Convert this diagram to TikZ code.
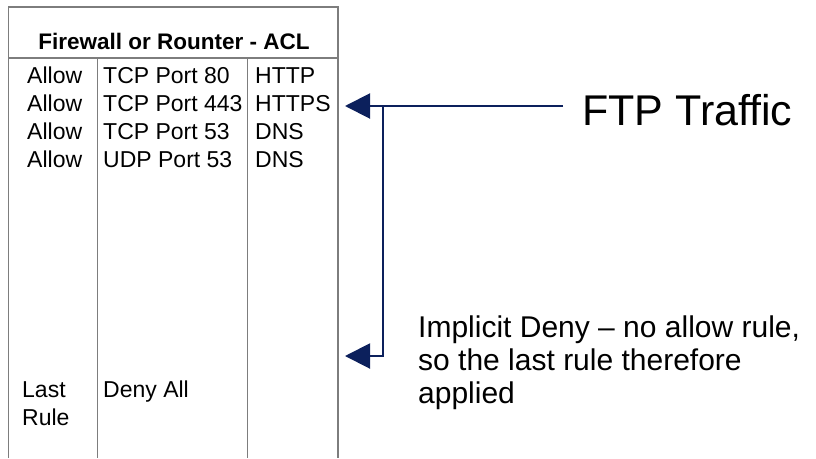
\documentclass[tikz,border=0pt]{standalone}
\usepackage{fontspec}
\setmainfont{Liberation Sans}
\usetikzlibrary{arrows.meta,positioning}
\definecolor{navy}{RGB}{12,32,92}
\definecolor{rule}{RGB}{125,125,125}
\tikzstyle{cell}=[anchor=base west,inner sep=0pt,font=\fontsize{23}{28}\selectfont]
\tikzstyle{head}=[anchor=base,inner sep=0pt,font=\fontsize{22.5}{26}\selectfont\bfseries]
\tikzstyle{grid}=[draw=rule,line width=1.3pt]
\tikzstyle{flow}=[-{Triangle[length=25pt,width=25pt]},draw=navy,color=navy,line width=2pt]

\begin{document}
\begin{tikzpicture}[x=1pt,y=-1pt]
\useasboundingbox (0,0) rectangle (816,458);
% table frame
\draw [grid] (8.5,458) -- (8.5,7) -- (338,7) -- (338,458);
\draw [grid] (8.5,58) -- (338,58);
\draw [grid] (97.5,58) -- (97.5,458);
\draw [grid] (247.5,58) -- (247.5,458);
\node (title) [head] at (174,49) {Firewall or Rounter - ACL};
% rules
\node (a1) [cell] at (27,83) {Allow};
\node (p1) [cell] at (103,83) {TCP Port 80};
\node (s1) [cell] at (255,83) {HTTP};
\node (a2) [cell] at (27,111) {Allow};
\node (p2) [cell] at (103,111) {TCP Port 443};
\node (s2) [cell] at (255,111) {HTTPS};
\node (a3) [cell] at (27,139) {Allow};
\node (p3) [cell] at (103,139) {TCP Port 53};
\node (s3) [cell] at (255,139) {DNS};
\node (a4) [cell] at (27,167) {Allow};
\node (p4) [cell] at (103,167) {UDP Port 53};
\node (s4) [cell] at (255,167) {DNS};
\node (last) [cell,align=left] at (22,425) {Last\\Rule};
\node (deny) [cell] at (103,397) {Deny All};
% traffic
\node (ftp) [anchor=base west,inner sep=0pt,font=\fontsize{43}{50}\selectfont] at (582,125) {FTP Traffic};
\node (implicit) [anchor=base west,inner sep=0pt,align=left,font=\fontsize{30}{33}\selectfont] at (418,403) {Implicit Deny -- no allow rule,\\so the last rule therefore\\applied};
\coordinate (start) at (563,106);
\coordinate (branch) at (383,106);
\coordinate (hit) at (345,106);
\coordinate (miss) at (345,356);
\draw [flow] (start) -- (hit);
\draw [flow] (branch) |- (miss);
\end{tikzpicture}
\end{document}
